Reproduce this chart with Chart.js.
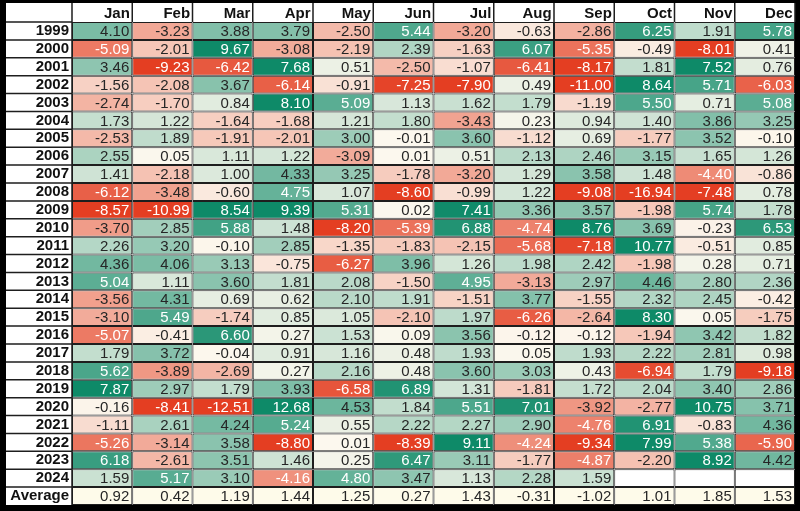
<!DOCTYPE html>
<html>
<head>
<meta charset="utf-8">
<script src="https://cdn.jsdelivr.net/npm/chart.js@4"></script>
<style>
  body { margin: 0; background: #000; }
  #wrap { width: 800px; height: 511px; }
</style>
</head>
<body>
<div id="wrap"><canvas id="heat" width="800" height="511"></canvas></div>
<script>
const months = ['Jan', 'Feb', 'Mar', 'Apr', 'May', 'Jun', 'Jul', 'Aug', 'Sep', 'Oct', 'Nov', 'Dec'];
const years = ['1999', '2000', '2001', '2002', '2003', '2004', '2005', '2006', '2007', '2008', '2009', '2010', '2011',
    '2012', '2013', '2014', '2015', '2016', '2017', '2018', '2019', '2020', '2021', '2022', '2023', '2024'];
// monthly returns, one row per year
const returns = [
    [4.10, -3.23, 3.88, 3.79, -2.50, 5.44, -3.20, -0.63, -2.86, 6.25, 1.91, 5.78],
    [-5.09, -2.01, 9.67, -3.08, -2.19, 2.39, -1.63, 6.07, -5.35, -0.49, -8.01, 0.41],
    [3.46, -9.23, -6.42, 7.68, 0.51, -2.50, -1.07, -6.41, -8.17, 1.81, 7.52, 0.76],
    [-1.56, -2.08, 3.67, -6.14, -0.91, -7.25, -7.90, 0.49, -11.00, 8.64, 5.71, -6.03],
    [-2.74, -1.70, 0.84, 8.10, 5.09, 1.13, 1.62, 1.79, -1.19, 5.50, 0.71, 5.08],
    [1.73, 1.22, -1.64, -1.68, 1.21, 1.80, -3.43, 0.23, 0.94, 1.40, 3.86, 3.25],
    [-2.53, 1.89, -1.91, -2.01, 3.00, -0.01, 3.60, -1.12, 0.69, -1.77, 3.52, -0.10],
    [2.55, 0.05, 1.11, 1.22, -3.09, 0.01, 0.51, 2.13, 2.46, 3.15, 1.65, 1.26],
    [1.41, -2.18, 1.00, 4.33, 3.25, -1.78, -3.20, 1.29, 3.58, 1.48, -4.40, -0.86],
    [-6.12, -3.48, -0.60, 4.75, 1.07, -8.60, -0.99, 1.22, -9.08, -16.94, -7.48, 0.78],
    [-8.57, -10.99, 8.54, 9.39, 5.31, 0.02, 7.41, 3.36, 3.57, -1.98, 5.74, 1.78],
    [-3.70, 2.85, 5.88, 1.48, -8.20, -5.39, 6.88, -4.74, 8.76, 3.69, -0.23, 6.53],
    [2.26, 3.20, -0.10, 2.85, -1.35, -1.83, -2.15, -5.68, -7.18, 10.77, -0.51, 0.85],
    [4.36, 4.06, 3.13, -0.75, -6.27, 3.96, 1.26, 1.98, 2.42, -1.98, 0.28, 0.71],
    [5.04, 1.11, 3.60, 1.81, 2.08, -1.50, 4.95, -3.13, 2.97, 4.46, 2.80, 2.36],
    [-3.56, 4.31, 0.69, 0.62, 2.10, 1.91, -1.51, 3.77, -1.55, 2.32, 2.45, -0.42],
    [-3.10, 5.49, -1.74, 0.85, 1.05, -2.10, 1.97, -6.26, -2.64, 8.30, 0.05, -1.75],
    [-5.07, -0.41, 6.60, 0.27, 1.53, 0.09, 3.56, -0.12, -0.12, -1.94, 3.42, 1.82],
    [1.79, 3.72, -0.04, 0.91, 1.16, 0.48, 1.93, 0.05, 1.93, 2.22, 2.81, 0.98],
    [5.62, -3.89, -2.69, 0.27, 2.16, 0.48, 3.60, 3.03, 0.43, -6.94, 1.79, -9.18],
    [7.87, 2.97, 1.79, 3.93, -6.58, 6.89, 1.31, -1.81, 1.72, 2.04, 3.40, 2.86],
    [-0.16, -8.41, -12.51, 12.68, 4.53, 1.84, 5.51, 7.01, -3.92, -2.77, 10.75, 3.71],
    [-1.11, 2.61, 4.24, 5.24, 0.55, 2.22, 2.27, 2.90, -4.76, 6.91, -0.83, 4.36],
    [-5.26, -3.14, 3.58, -8.80, 0.01, -8.39, 9.11, -4.24, -9.34, 7.99, 5.38, -5.90],
    [6.18, -2.61, 3.51, 1.46, 0.25, 6.47, 3.11, -1.77, -4.87, -2.20, 8.92, 4.42],
    [1.59, 5.17, 3.10, -4.16, 4.80, 3.47, 1.13, 2.28, 1.59, null, null, null]
];
const averages = [0.92, 0.42, 1.19, 1.44, 1.25, 0.27, 1.43, -0.31, -1.02, 1.01, 1.85, 1.53];

const rowLabels = years.concat(['Average']);
const lineColor = '#1e1e1e';

function mix(a, b, t) {
    return 'rgb(' + a.map((c, i) => Math.round(c + (b[i] - c) * t)).join(',') + ')';
}
function cellColor(v, isAvg) {
    if (v === null) return '#ffffff';
    if (isAvg) return '#fefbea';
    const mid = [252, 248, 238];
    const t = Math.min(Math.abs(v) / 7.5, 1);
    return v < 0 ? mix(mid, [228, 62, 34], t) : mix(mid, [14, 138, 104], t);
}
function cellValue(row, col) {
    return row < years.length ? returns[row][col] : averages[col];
}

const datasets = months.map((m, col) => ({
    label: m,
    data: rowLabels.map(() => 1),
    backgroundColor: rowLabels.map((r, row) => cellColor(cellValue(row, col), row === years.length)),
    borderColor: lineColor,
    borderWidth: 1,
    borderSkipped: false,
    inflateAmount: 0,
    barPercentage: 1,
    categoryPercentage: 1
}));

// frame, white table, header and label column lines
const tableFrame = {
    id: 'tableFrame',
    beforeDraw(chart) {
        const c = chart.ctx;
        const a = chart.chartArea;
        c.save();
        c.fillStyle = '#000';
        c.fillRect(0, 0, chart.width, chart.height);
        c.fillStyle = '#fff';
        c.fillRect(6, 3, a.right - 6, a.bottom - 3);
        c.restore();
    },
    afterDatasetsDraw(chart) {
        const c = chart.ctx;
        const a = chart.chartArea;
        const x = chart.scales.x, y = chart.scales.y;
        c.save();
        c.strokeStyle = lineColor;
        c.lineWidth = 1.5;
        c.beginPath();
        for (let i = 0; i <= months.length; i++) {
            const px = x.getPixelForValue(i);
            c.moveTo(px, 3); c.lineTo(px, a.top);
        }
        const half = (y.getPixelForValue(1) - y.getPixelForValue(0)) / 2;
        for (let r = 0; r < rowLabels.length; r++) {
            const py = y.getPixelForValue(r) - half;
            c.moveTo(6, py); c.lineTo(a.left, py);
        }
        c.moveTo(6, a.top); c.lineTo(a.left, a.top);
        c.moveTo(a.left, 3); c.lineTo(a.left, a.bottom);
        c.stroke();
        // cell values
        c.font = '15px "Liberation Sans", Arial, sans-serif';
        c.textAlign = 'right';
        c.textBaseline = 'middle';
        chart.data.datasets.forEach((ds, col) => {
            chart.getDatasetMeta(col).data.forEach((bar, row) => {
                const v = cellValue(row, col);
                if (v === null) return;
                const isAvg = row === years.length;
                c.fillStyle = (!isAvg && (v >= 4.7 || v <= -4.0)) ? '#ffffff' : '#262626';
                c.fillText(v.toFixed(2), bar.x - 3, bar.y + 1);
            });
        });
        c.restore();
    }
};

const ctx = document.getElementById('heat').getContext('2d');
const heat = new Chart(ctx, {
    type: 'bar',
    data: { labels: rowLabels, datasets: datasets },
    plugins: [tableFrame],
    options: {
        indexAxis: 'y',
        responsive: false,
        animation: false,
        layout: { padding: { top: 3, left: 6, right: 5, bottom: 6 } },
        plugins: { legend: { display: false }, tooltip: { enabled: false } },
        scales: {
            x: {
                type: 'linear',
                position: 'top',
                stacked: true,
                min: 0,
                max: 12,
                grid: { display: false },
                border: { display: false },
                afterFit(scale) {
                    scale.height = 19;
                    scale.paddingLeft = 0;
                    scale.paddingRight = 0;
                },
                afterBuildTicks(scale) {
                    scale.ticks = months.map((m, i) => ({ value: i + 1 - 0.04 }));
                },
                ticks: {
                    autoSkip: false,
                    maxRotation: 0,
                    align: 'end',
                    padding: -9,
                    color: '#111',
                    font: { family: '"Liberation Sans", Arial, sans-serif', size: 15, weight: 'bold' },
                    callback: (v, i) => months[i]
                }
            },
            y: {
                stacked: true,
                grid: { display: false, drawTicks: false },
                border: { display: false },
                afterFit(scale) {
                    scale.width = 66;
                    scale.paddingTop = 0;
                    scale.paddingBottom = 0;
                },
                ticks: {
                    autoSkip: false,
                    padding: 3,
                    color: '#111',
                    font: { family: '"Liberation Sans", Arial, sans-serif', size: 15, weight: 'bold' }
                }
            }
        }
    }
});
</script>
</body>
</html>
